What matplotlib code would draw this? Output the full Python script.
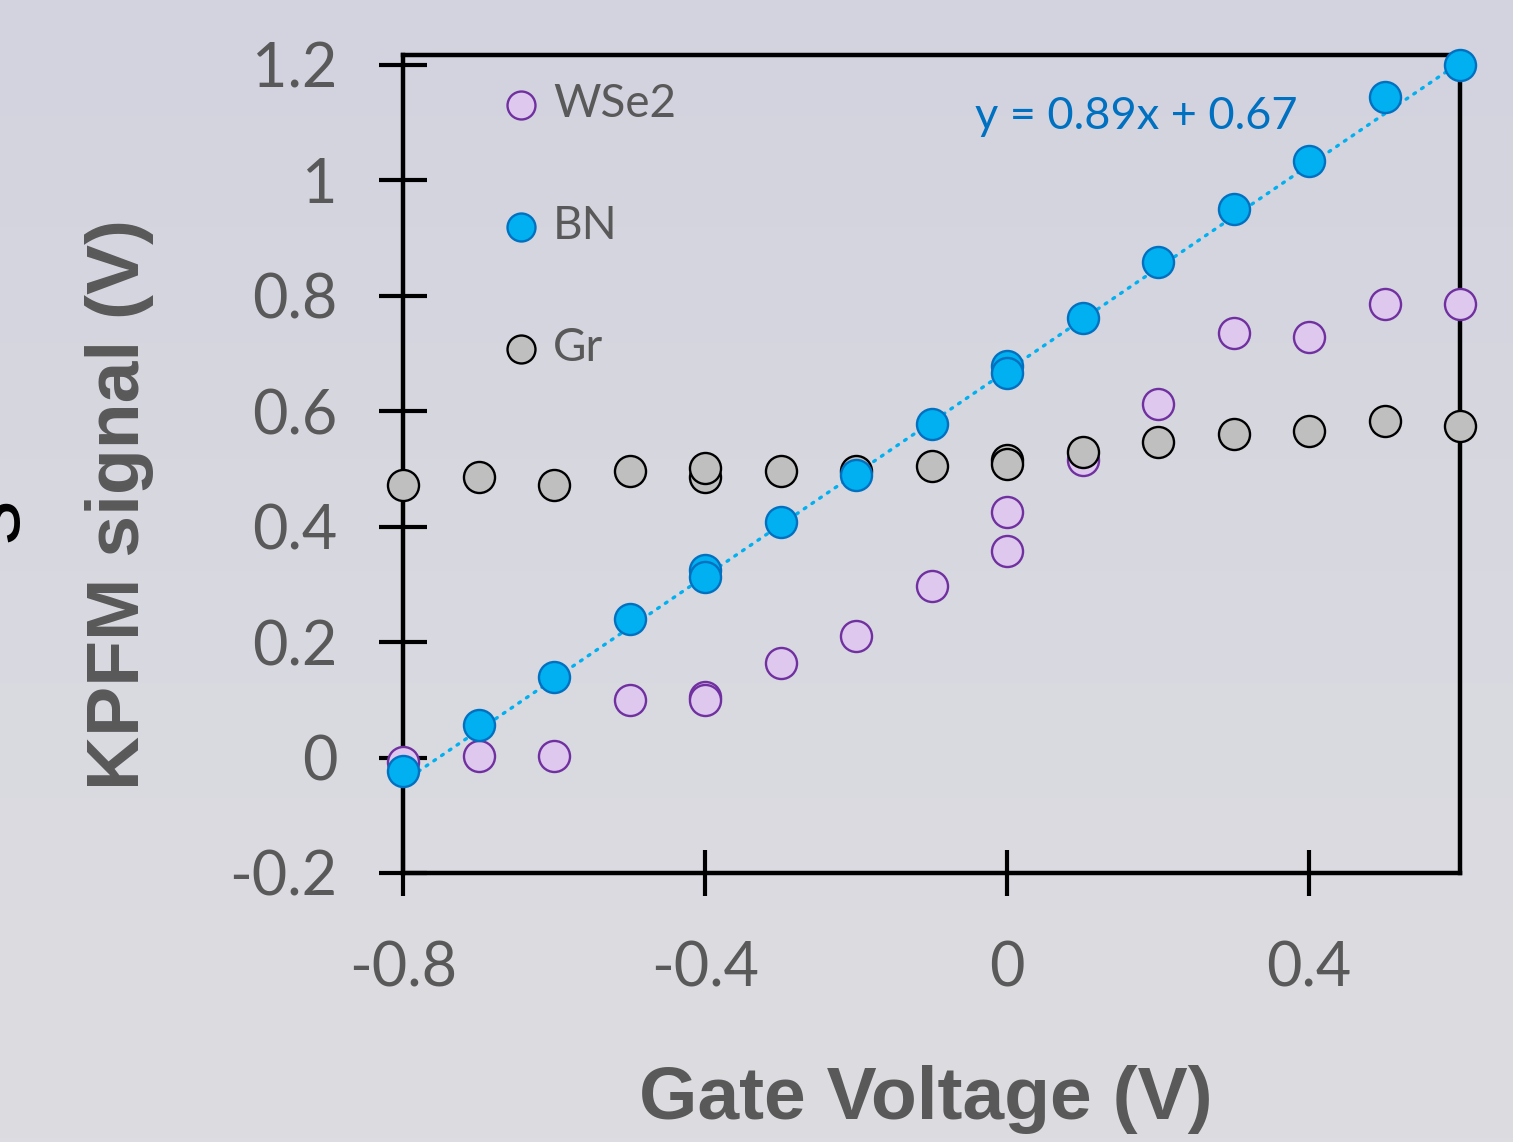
import numpy as np
import matplotlib
matplotlib.use("Agg")
import matplotlib.pyplot as plt

# ---- data ----
gate_x = [-0.8, -0.7, -0.6, -0.5, -0.4, -0.4, -0.3, -0.2, -0.1, 0.0, 0.0, 0.1, 0.2, 0.3, 0.4, 0.5, 0.6]
wse2_y = [-0.007, 0.002, 0.002, 0.099, 0.105, 0.099, 0.164, 0.211, 0.297, 0.425, 0.358, 0.515, 0.612, 0.735, 0.729, 0.786, 0.786]
bn_y = [-0.024, 0.057, 0.140, 0.240, 0.325, 0.313, 0.408, 0.489, 0.577, 0.678, 0.666, 0.762, 0.859, 0.951, 1.034, 1.144, 1.200]
gr_y = [0.472, 0.486, 0.472, 0.496, 0.486, 0.501, 0.496, 0.496, 0.505, 0.515, 0.508, 0.529, 0.546, 0.560, 0.565, 0.583, 0.574]
fit_slope = 0.89
fit_intercept = 0.67
fit_label = "y = 0.89x + 0.67"
series_names = ["WSe2", "BN", "Gr"]
xticks = [-0.8, -0.4, 0.0, 0.4]
xtick_labels = ["-0.8", "-0.4", "0", "0.4"]
yticks = [-0.2, 0.0, 0.2, 0.4, 0.6, 0.8, 1.0, 1.2]
ytick_labels = ["-0.2", "0", "0.2", "0.4", "0.6", "0.8", "1", "1.2"]

W, H = 1513, 1142
fig = plt.figure(figsize=(W / 100, H / 100), dpi=100)

# background gradient
bg = fig.add_axes([0, 0, 1, 1], zorder=-10)
top = np.array([211, 211, 223]) / 255.0
bot = np.array([221, 221, 225]) / 255.0
t = np.linspace(0, 1, 256)[:, None]
grad = top[None, :] * (1 - t) + bot[None, :] * t
bg.imshow(grad[:, None, :], aspect="auto", extent=[0, 1, 0, 1])
bg.axis("off")

ax = fig.add_axes([403 / W, 1 - 873 / H, (1460 - 403) / W, (873 - 55) / H])
ax.patch.set_alpha(0)

tick_font = "Lato"
gray = "#595959"
ms = 500

ax.scatter(gate_x, wse2_y, s=ms, facecolor="#DFC8EE", edgecolor="#7030A0", linewidth=1.7, zorder=3,
           label=series_names[0], clip_on=False)
ax.scatter(gate_x, bn_y, s=ms, facecolor="#00B0F0", edgecolor="#0070C0", linewidth=1.7, zorder=5,
           label=series_names[1], clip_on=False)
ax.scatter(gate_x, gr_y, s=ms, facecolor="#BFBFBF", edgecolor="black", linewidth=1.7, zorder=4,
           label=series_names[2], clip_on=False)

xf = np.array([min(gate_x), max(gate_x)])
ax.plot(xf, fit_slope * xf + fit_intercept, linestyle=(0, (0.6, 2.2)), color="#00B0F0", lw=2.4,
        dash_capstyle="round", zorder=3.5, clip_on=False)

ax.text(0.541, 0.925, fit_label, transform=ax.transAxes, color="#0070C0", fontsize=32.5, family=tick_font,
        ha="left", va="center")

ax.set_xlim(-0.8, 0.6)
ax.set_ylim(-0.2, 1.217)
for sp in ax.spines.values():
    sp.set_linewidth(3.2)
    sp.set_color("black")
    sp.set_zorder(2)
ax.set_xticks(xticks)
ax.set_xticklabels(xtick_labels)
ax.set_yticks(yticks)
ax.set_yticklabels(ytick_labels)
ax.tick_params(axis="both", direction="inout", width=3, color="black", labelcolor=gray, labelsize=44)
ax.tick_params(axis="y", length=34, pad=30)
ax.tick_params(axis="x", length=33, pad=32)
for lab in ax.get_xticklabels() + ax.get_yticklabels():
    lab.set_family(tick_font)

leg = ax.legend(loc="upper left", bbox_to_anchor=(0.038, 1.005), frameon=False,
                labelspacing=1.75, handletextpad=-0.3, markerscale=0.9, scatterpoints=1,
                borderaxespad=0.3, prop={"family": tick_font, "size": 33})
for txt in leg.get_texts():
    txt.set_color(gray)

fig.text(926 / W, 1 - 1100 / H, "Gate Voltage (V)", fontsize=54, fontweight="bold", color=gray,
         family="Liberation Sans", ha="center", va="center")
fig.text(120 / W, 1 - 505 / H, "KPFM signal (V)", fontsize=54, fontweight="bold", color=gray,
         family="Liberation Sans", ha="center", va="center", rotation=90)
fig.text(36 / W, 1 - 520 / H, "s", fontsize=64, color="black", family="Liberation Sans",
         ha="right", va="center", rotation=90)

fig.savefig("out.png", dpi=100)
